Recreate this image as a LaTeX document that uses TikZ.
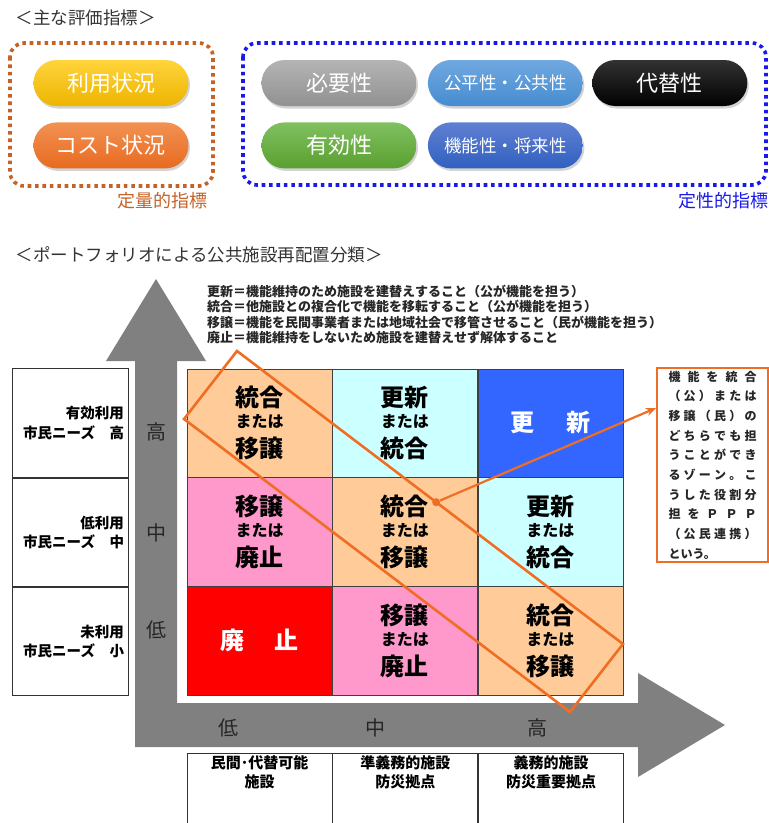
\documentclass[tikz,border=0pt]{standalone}
\usepackage{fontspec}
\setmainfont{Noto Sans CJK JP}
\usetikzlibrary{positioning,shadows,calc,arrows.meta}

\definecolor{quantcol}{RGB}{196,98,40}
\definecolor{qualcol}{RGB}{25,25,235}
\definecolor{zone}{RGB}{240,110,35}
\definecolor{peach}{RGB}{255,204,153}
\definecolor{aqua}{RGB}{204,255,255}
\definecolor{royal}{RGB}{51,102,255}
\definecolor{rose}{RGB}{255,153,204}
\definecolor{axisgray}{RGB}{128,128,128}

\newcommand\fs[2]{\fontsize{#1}{#2}\selectfont}
\newcommand\twoways[2]{{\fs{24}{24}#1}\\または\\[7.5pt]{\fs{24}{24}#2}}
\newcommand\spreadline[1]{\makebox[88pt][s]{\spreadchars#1\relax}}
\def\spreadchars#1#2{#1\ifx\relax#2\else\hfill\expandafter\spreadchars\expandafter#2\fi}

\begin{document}
\begin{tikzpicture}[x=1pt,y=1pt]
% Define styles
\tikzstyle{pill} = [rectangle, rounded corners=23pt, minimum width=155pt, minimum height=46pt, text=white, font=\fs{22}{26}, drop shadow={shadow xshift=1.5pt, shadow yshift=-2.5pt, opacity=0.35}]
\tikzstyle{group} = [rounded corners=14pt, line width=3.6pt, dash pattern=on 3.6pt off 3.8pt]
\tikzstyle{cell} = [rectangle, draw=black!75, minimum width=145pt, minimum height=108.5pt, inner sep=0pt, align=center, font=\fs{16}{21}\bfseries]
\tikzstyle{level} = [font=\fs{20}{24}, text=black!85]
\tikzstyle{demand} = [rectangle, draw=black!80, thick, minimum width=116pt, minimum height=108.5pt, text width=108pt, inner sep=4pt, align=right, font=\fs{14.5}{19.5}\bfseries]
\tikzstyle{duty} = [rectangle, draw=black!80, thick, minimum width=145pt, minimum height=80pt]
\tikzstyle{dutytext} = [inner sep=0pt, align=center, font=\fs{15}{19}\bfseries]
\tikzstyle{arrow} = [zone, line width=2.2pt, -{Stealth[length=10pt, width=8pt]}]

\useasboundingbox (0,0) rectangle (769,-823);

% Evaluation indicators
\node (ttl1) [anchor=west, font=\fs{17.5}{20}, text=black!80] at (12,-18) {＜主な評価指標＞};
\draw [group, quantcol] (10,-43) rectangle (213,-186);
\draw [group, qualcol] (243,-43) rectangle (766,-185);

\node (usage) [pill, top color={rgb,255:red,255;green,212;blue,60}, bottom color={rgb,255:red,238;green,180;blue,0}] at (111,-83) {利用状況};
\node (cost) [pill, top color={rgb,255:red,242;green,146;blue,82}, bottom color={rgb,255:red,232;green,106;blue,32}, below=16pt of usage] {コスト状況};
\node (necessity) [pill, top color={rgb,255:red,180;green,180;blue,180}, bottom color={rgb,255:red,145;green,145;blue,145}] at (339,-83) {必要性};
\node (equity) [pill, font=\fs{17.5}{20}, top color={rgb,255:red,112;green,168;blue,224}, bottom color={rgb,255:red,70;green,140;blue,208}, right=11pt of necessity] {公平性・公共性};
\node (alt) [pill, top color={rgb,255:red,50;green,50;blue,50}, bottom color=black, right=9pt of equity] {代替性};
\node (effect) [pill, top color={rgb,255:red,128;green,192;blue,96}, bottom color={rgb,255:red,90;green,160;blue,48}, below=16pt of necessity] {有効性};
\node (future) [pill, font=\fs{17.5}{20}, top color={rgb,255:red,96;green,128;blue,210}, bottom color={rgb,255:red,48;green,96;blue,192}, below=16pt of equity] {機能性・将来性};

\node (quant) [font=\fs{18}{20}, text=quantcol] at (162,-201) {定量的指標};
\node (qual) [font=\fs{18}{20}, text=qualcol] at (723,-201) {定性的指標};

% Portfolio
\node (ttl2) [anchor=west, font=\fs{17.5}{20}, text=black!80] at (12,-255) {＜ポートフォリオによる公共施設再配置分類＞};
\node (terms) [anchor=north west, inner sep=0pt, align=left, font=\fs{13}{15.3}\bfseries, text=black!85] at (207,-285) {更新＝機能維持のため施設を建替えすること（公が機能を担う）\\統合＝他施設との複合化で機能を移転すること（公が機能を担う）\\移譲＝機能を民間事業者または地域社会で移管させること（民が機能を担う）\\廃止＝機能維持をしないため施設を建替えせず解体すること};

% Axes
\fill [axisgray] (156,-279) -- (206,-361) -- (177,-361) -- (177,-703) -- (638,-703) -- (638,-673) -- (725,-725) -- (638,-777) -- (638,-747) -- (135,-747) -- (135,-361) -- (106,-361) -- cycle;

\node (vhigh) [level] at (156,-432) {高};
\node (vmid) [level] at (156,-533) {中};
\node (vlow) [level] at (156,-630) {低};
\node (hlow) [level] at (228,-728) {低};
\node (hmid) [level] at (375,-728) {中};
\node (hhigh) [level] at (537,-728) {高};

% Grid
\node (c11) [cell, fill=peach] at (259.5,-423) {\twoways{統合}{移譲}};
\node (c12) [cell, fill=aqua, right=0pt of c11] {\twoways{更新}{統合}};
\node (c13) [cell, fill=royal, right=0pt of c12, text=white, font=\fs{24}{24}\bfseries] {更\hspace{32pt}新};
\node (c21) [cell, fill=rose, below=0pt of c11] {\twoways{移譲}{廃止}};
\node (c22) [cell, fill=peach, right=0pt of c21] {\twoways{統合}{移譲}};
\node (c23) [cell, fill=aqua, right=0pt of c22] {\twoways{更新}{統合}};
\node (c31) [cell, fill=red, below=0pt of c21, text=white, font=\fs{24}{24}\bfseries] {廃\hspace{30pt}止};
\node (c32) [cell, fill=rose, right=0pt of c31] {\twoways{移譲}{廃止}};
\node (c33) [cell, fill=peach, right=0pt of c32] {\twoways{統合}{移譲}};

% Citizen needs
\node (need1) [demand] at (70,-423) {有効利用\\市民ニーズ　高};
\node (need2) [demand, below=0pt of need1] {低利用\\市民ニーズ　中};
\node (need3) [demand, below=0pt of need2] {未利用\\市民ニーズ　小};

% Facility types
\node (duty1) [duty] at (259.5,-793) {};
\node (duty2) [duty, right=0pt of duty1] {};
\node (duty3) [duty, right=0pt of duty2] {};
\node (dlab1) [dutytext, below=3pt of duty1.north] {民間･代替可能\\施設};
\node (dlab2) [dutytext, below=3pt of duty2.north] {準義務的施設\\防災拠点};
\node (dlab3) [dutytext, below=3pt of duty3.north] {義務的施設\\防災重要拠点};

% PPP zone
\coordinate (zl) at (184,-419);
\coordinate (zt) at (237,-351);
\coordinate (zr) at (623,-644);
\coordinate (zb) at (570,-712);
\draw [zone, line width=2.6pt, line join=miter] (zl) -- (zt) -- (zr) -- (zb) -- cycle;
\node (hub) [circle, fill=zone, inner sep=0pt, minimum size=8pt] at ($(zt)!0.516!(zr)$) {};

\node (ppp) [rectangle, draw=zone, line width=1.8pt, minimum width=111pt, minimum height=194pt, text width=88pt, inner sep=0pt, align=left, font=\fs{12}{19.7}\bfseries, text=black!85] at (712.5,-465) {\spreadline{機能を統合}\\\spreadline{（公）または}\\\spreadline{移譲（民）の}\\\spreadline{どちらでも担}\\\spreadline{うことができ}\\\spreadline{るゾーン。こ}\\\spreadline{うした役割分}\\\spreadline{担をＰＰＰ}\\\spreadline{（公民連携）}\\という。};

\draw [arrow] (hub) -- ([yshift=57pt]ppp.west);

\end{tikzpicture}
\end{document}
